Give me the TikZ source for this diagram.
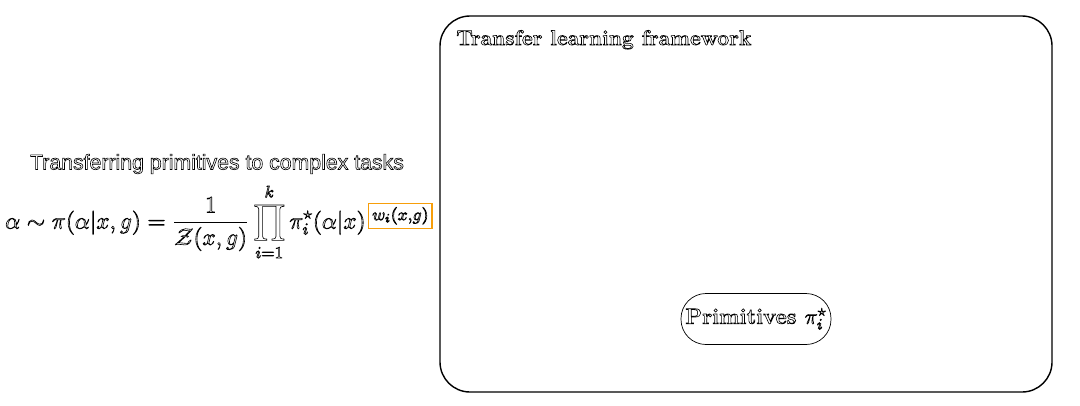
\documentclass[tikz,border=0pt]{standalone}
\usepackage{fix-cm}
\usepackage{amsmath}
\usepackage{fontspec}
\newfontfamily\labelsans{Liberation Sans}
\usetikzlibrary{positioning}
\definecolor{wboxorange}{RGB}{247,158,10}
\newcommand{\outl}[1]{\special{pdf:literal direct 1 Tr 0.35 w}#1\special{pdf:literal direct 0 Tr}}
\begin{document}
\begin{tikzpicture}[scale=1.0,
    tlFrame/.style={draw,thick,rounded corners=0.6cm},
    tlTitle/.style={font=\bfseries\fontsize{12}{14}\selectfont,anchor=base west,inner sep=0pt},
    tlPrim/.style={draw,rounded corners=0.5cm,minimum width=3cm,minimum height=1.02cm,inner sep=1pt,font=\bfseries\fontsize{12.5}{14}\selectfont},
    tlCaption/.style={font=\labelsans\fontsize{12.1}{14}\selectfont,inner sep=0pt},
    tlEq/.style={font=\fontsize{13.5}{16}\selectfont,inner sep=0pt},
    tlWbox/.style={draw=wboxorange,thick,inner sep=2pt,minimum height=0.5cm,font=\fontsize{14}{16}\selectfont},
]
\useasboundingbox (0,0) rectangle (21.6,-8.1);
% Framework
\draw[tlFrame] (8.8,-0.32) rectangle (21.04,-7.84);
\node[tlTitle] (title) at (9.12,-0.9) {\outl{Transfer learning framework}};
\node[tlPrim] (prim) at (15.12,-6.38) {\outl{Primitives $\pi_i^{\star}$}};
% Transfer equation
\node[tlCaption] (caption) at (4.34,-3.28) {\outl{Transferring primitives to complex tasks}};
\node[tlEq,anchor=east] (eq) at (7.32,-4.44) {\outl{$\displaystyle \alpha \sim \pi(\alpha|x,g) = \frac{1}{\mathcal{Z}(x,g)} \prod_{i=1}^{k} \pi_i^{\star}(\alpha|x)$}};
\node[tlWbox,anchor=south west] (wexp) at (7.36,-4.58) {\outl{$\scriptstyle w_i(x,g)$}};
\end{tikzpicture}
\end{document}
